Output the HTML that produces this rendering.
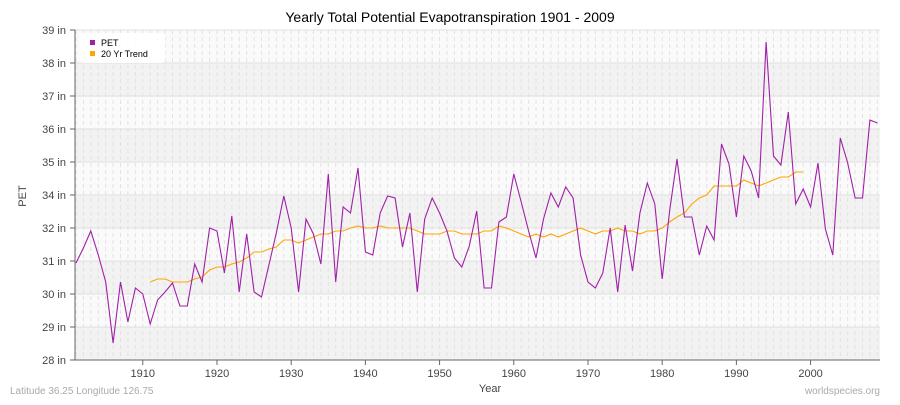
<!DOCTYPE html>
<html><head><meta charset="utf-8"><style>
body{margin:0;background:#fff;}
svg text{font-family:"Liberation Sans",sans-serif;}
</style></head><body>
<svg id="s" width="900" height="400" xmlns="http://www.w3.org/2000/svg">
<rect width="900" height="400" fill="#fff"/>
<g id="bands"></g>
<g id="grid"></g>
<text x="450" y="22" text-anchor="middle" font-size="14" fill="#000">Yearly Total Potential Evapotranspiration 1901 - 2009</text>
<text x="26" y="196" text-anchor="middle" font-size="11" fill="#444" transform="rotate(-90 26 196)">PET</text>
<text x="490" y="392" text-anchor="middle" font-size="11" fill="#444">Year</text>
<text x="10" y="394" font-size="10" fill="#aaa">Latitude 36.25 Longitude 126.75</text>
<text x="880" y="394" text-anchor="end" font-size="10" fill="#aaa">worldspecies.org</text>
<g id="lab"></g>
<polyline id="trend" fill="none" stroke="#ffa500" stroke-width="1.1"/>
<polyline id="pet" fill="none" stroke="#a020a8" stroke-width="1.1"/>
<rect x="80" y="33" width="85" height="30" rx="3" fill="#fff" opacity="0.9"/>
<rect x="90" y="40" width="5" height="5" fill="#a020a8"/>
<text x="101" y="46" font-size="9" fill="#000">PET</text>
<rect x="90" y="51" width="5" height="5" fill="#ffa500"/>
<text x="101" y="57" font-size="9" fill="#000">20 Yr Trend</text>
</svg>
<script>
var ns="http://www.w3.org/2000/svg";
function X(y){return 76+(y-1901)*7.42;}
function el(t,a,p){var e=document.createElementNS(ns,t);for(var k in a)e.setAttribute(k,a[k]);document.getElementById(p).appendChild(e);return e;}
for(var i=0;i<10;i++){var y=30+33*i;el("rect",{x:75,y:y,width:805,height:33,fill:i%2?"#f2f2f2":"#fafafa"},"bands");}
for(var yr=1901;yr<=2009;yr++){el("line",{x1:X(yr),x2:X(yr),y1:30,y2:360,stroke:"#e2e2e2","stroke-dasharray":"4,3","stroke-width":1},"grid");}
var labs=[39,38,37,36,35,34,32,31,30,29,28];
for(var i=0;i<=10;i++){var y=30+33*i;el("line",{x1:75,x2:880,y1:y,y2:y,stroke:"#e0e0e0"},"grid");
el("line",{x1:70,x2:75,y1:y,y2:y,stroke:"#666"},"grid");
var t=el("text",{x:66,y:y+4,"text-anchor":"end","font-size":11,fill:"#444"},"lab");t.textContent=labs[i]+" in";}
el("line",{x1:75,x2:75,y1:30,y2:360,stroke:"#666"},"grid");
el("line",{x1:75,x2:880,y1:360,y2:360,stroke:"#666"},"grid");
for(var yr=1910;yr<=2000;yr+=10){el("line",{x1:X(yr),x2:X(yr),y1:360,y2:365,stroke:"#666"},"grid");
var t=el("text",{x:X(yr),y:377,"text-anchor":"middle","font-size":11,fill:"#444"},"lab");t.textContent=yr;}
var pet=[263,248,231,255,282,343,282,322,288,294,324,300,292,283,306,306,264,282,228,231,273,216,292,234,292,297,265,233,196,228,292,219,234,264,174,282,207,213,168,252,255,213,196,198,247,213,292,219,198,213,231,258,267,246,211,288,288,222,217,174,202,231,258,219,193,207,187,198,255,282,288,273,228,292,225,271,213,183,204,279,211,159,217,217,255,226,240,144,164,217,156,171,198,42,156,165,112,204,189,207,163,229,255,138,163,198,198,120,123];
var tr=[282,279,279,282,282,282,279,277,270,267,267,264,262,258,252,252,249,247,240,240,243,240,237,234,234,231,231,228,226,228,228,226,228,228,228,228,231,234,234,234,231,231,234,234,234,231,231,226,228,231,234,237,234,237,234,237,234,231,228,231,234,231,231,228,231,231,234,231,231,228,222,217,213,204,198,195,186,186,186,186,180,183,186,183,180,177,177,172,172];
document.getElementById("pet").setAttribute("points",pet.map(function(v,i){return X(1901+i).toFixed(1)+","+v;}).join(" "));
document.getElementById("trend").setAttribute("points",tr.map(function(v,i){return X(1911+i).toFixed(1)+","+v;}).join(" "));
</script>
</body></html>
